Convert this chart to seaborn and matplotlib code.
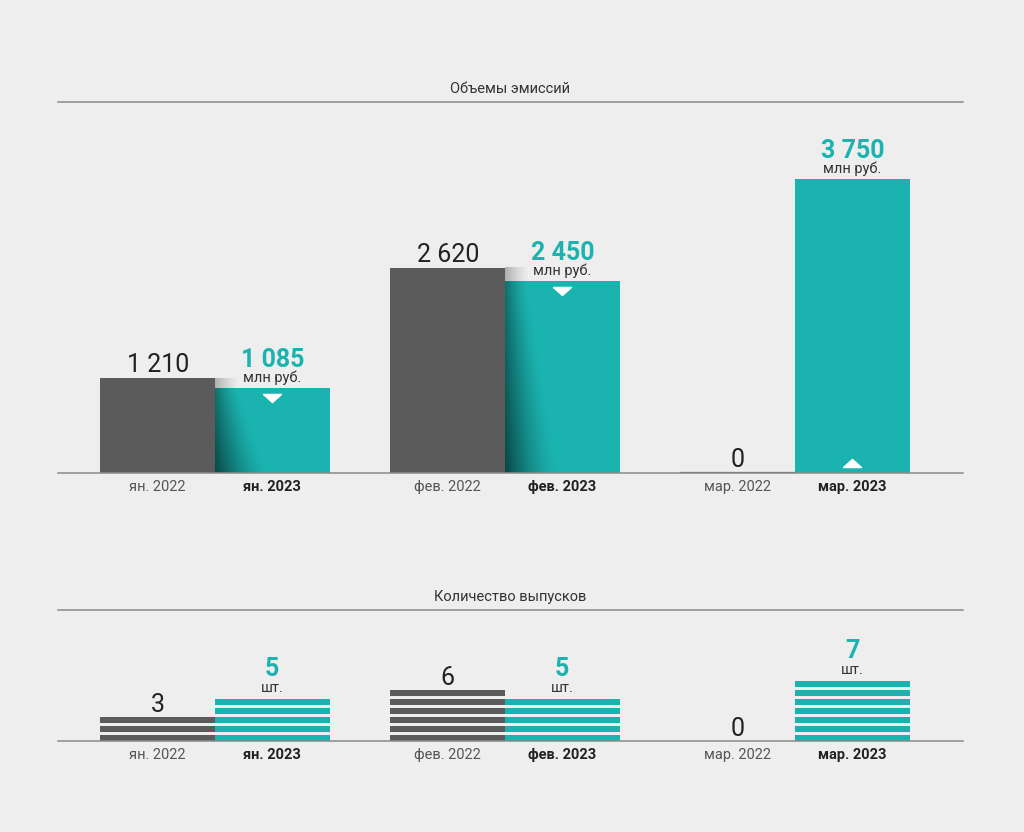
import numpy as np
import pandas as pd
import matplotlib
matplotlib.use("Agg")
import matplotlib.pyplot as plt
import seaborn as sns
from matplotlib import transforms
from matplotlib.colors import to_rgb

# ---------------- data ----------------
months = ["ян.", "фев.", "мар."]
years = ["2022", "2023"]
volume_2022 = [1210, 2620, 0]
volume_2023 = [1085, 2450, 3750]
count_2022 = [3, 6, 0]
count_2023 = [5, 5, 7]
title_volume = "Объемы эмиссий"
title_count = "Количество выпусков"
unit_volume = "млн руб."
unit_count = "шт."

# ---------------- style ----------------
BG = "#eeeeee"
GRAY = "#5b5b5b"
TEAL = "#1bb3af"
SPINE = "#8a8a8a"
DARK = "#222222"

sns.set_theme(style="white")
plt.rcParams["font.family"] = ["Roboto", "DejaVu Sans"]

W, H = 1024, 832
fig = plt.figure(figsize=(W / 100, H / 100), dpi=100, facecolor=BG)


def axes_px(x0, y0, x1, y1):
    ax = fig.add_axes([x0 / W, 1 - y1 / H, (x1 - x0) / W, (y1 - y0) / H])
    ax.set_facecolor(BG)
    return ax


ax1 = axes_px(58, 102, 963, 473)
ax2 = axes_px(58, 610, 963, 741)

XLIM = (-0.5414, 2.5793)


def fmt(v):
    return f"{v:,}".replace(",", " ")


def off(ax, dx=0, dy=0):
    return transforms.offset_copy(ax.transData, fig=fig, x=dx, y=dy, units="dots")


def style_axes(ax, title):
    for s in ["left", "right"]:
        ax.spines[s].set_visible(False)
    for s in ["top", "bottom"]:
        ax.spines[s].set_visible(True)
        ax.spines[s].set_color(SPINE)
        ax.spines[s].set_linewidth(1.1)
    ax.set_yticks([])
    ax.set_xlabel("")
    ax.set_ylabel("")
    ax.text(0.5, 1.0, title, transform=transforms.offset_copy(ax.transAxes, fig=fig, y=13, units="dots"),
            ha="center", va="center", fontsize=10.5, color="#333333")


def set_cat_ticks(ax, c_old, c_new):
    pos, labs = [], []
    for i, m in enumerate(months):
        for cont, yr in ((c_old, years[0]), (c_new, years[1])):
            p = cont.patches[i]
            pos.append(p.get_x() + p.get_width() / 2)
            labs.append(f"{m} {yr}")
    ax.set_xticks(pos)
    ax.set_xticklabels(labs)
    ax.tick_params(axis="x", length=0, pad=5, labelsize=10.5)
    for t, lab in zip(ax.get_xticklabels(), labs):
        if lab.endswith(years[1]):
            t.set_fontweight("bold")
            t.set_color(DARK)
        else:
            t.set_color("#555555")


# ---------------- top panel: volumes ----------------
df_vol = pd.DataFrame({
    "month": months * 2,
    "year": [years[0]] * 3 + [years[1]] * 3,
    "value": volume_2022 + volume_2023,
})
sns.barplot(data=df_vol, x="month", y="value", hue="year", palette=[GRAY, TEAL],
            width=0.79, saturation=1, errorbar=None, legend=False, linewidth=0, ax=ax1)
ax1.set_xlim(*XLIM)
ax1.set_ylim(0, 4732)
c_old, c_new = ax1.containers[0], ax1.containers[1]
style_axes(ax1, title_volume)
set_cat_ticks(ax1, c_old, c_new)

sx = (ax1.transData.transform((1, 0)) - ax1.transData.transform((0, 0)))[0]

dark_rgb = np.array(to_rgb("#063b3a"))
shade_rgb = np.array(to_rgb("#9a9a9a"))

for i in range(len(months)):
    po, pn = c_old.patches[i], c_new.patches[i]
    xo = po.get_x() + po.get_width() / 2
    xn = pn.get_x() + pn.get_width() / 2
    ho, hn = po.get_height(), pn.get_height()
    if ho == 0:
        po.set_linewidth(1.6)
        po.set_edgecolor(GRAY)
    # value labels
    ax1.text(xo, ho, fmt(volume_2022[i]), transform=off(ax1, dy=13), ha="center", va="center",
             fontsize=18, fontweight="normal", color=DARK)
    ax1.text(xn, hn, fmt(volume_2023[i]), transform=off(ax1, dy=28), ha="center", va="center",
             fontsize=18, fontweight="bold", color=TEAL)
    ax1.text(xn, hn, unit_volume, transform=off(ax1, dy=10), ha="center", va="center",
             fontsize=10.5, color="#333333")
    # direction triangle
    if volume_2023[i] < volume_2022[i]:
        verts = [(-1, 0.45), (1, 0.45), (0, -0.45), (-1, 0.45)]
        ax1.plot([xn], [hn], transform=off(ax1, dy=-10), marker=verts, ms=13,
                 color="white", mec="white", linestyle="none", zorder=5)
    else:
        verts = [(-1, -0.45), (1, -0.45), (0, 0.45), (-1, -0.45)]
        ax1.plot([xn], [0], transform=off(ax1, dy=10.5), marker=verts, ms=13,
                 color="white", mec="white", linestyle="none", zorder=5)
    # shadows cast by the gray bar
    if ho > 0 and hn > 0:
        ny, nx = 240, 120
        span_px = 60.0
        yy = np.linspace(0, 1, ny)[:, None]
        xx = np.linspace(0, span_px, nx)[None, :]
        wpx = 54 - 32 * yy
        amax = 0.9 - 0.35 * yy
        a = np.clip(1 - xx / wpx, 0, 1) ** 1.5 * amax
        img = np.zeros((ny, nx, 4))
        img[..., :3] = dark_rgb
        img[..., 3] = a
        x0 = pn.get_x()
        im = ax1.imshow(img, origin="lower", extent=[x0, x0 + span_px / sx, 0, hn],
                        aspect="auto", zorder=2, interpolation="bilinear")
        im.set_clip_path(pn)
        if ho > hn:
            span2 = 24.0
            xx2 = np.linspace(0, 1, 60)[None, :]
            g = np.zeros((4, 60, 4))
            g[..., :3] = shade_rgb
            g[..., 3] = np.repeat((1 - xx2) ** 1.3 * 0.75, 4, axis=0)
            ax1.imshow(g, origin="lower", extent=[x0, x0 + span2 / sx, hn, ho],
                       aspect="auto", zorder=2, interpolation="bilinear")

ax1.set_xlim(*XLIM)
ax1.set_ylim(0, 4732)

# ---------------- bottom panel: counts ----------------
df_cnt = pd.DataFrame({
    "month": months * 2,
    "year": [years[0]] * 3 + [years[1]] * 3,
    "value": count_2022 + count_2023,
})
STRIPE = 0.7
for k in range(max(count_2022 + count_2023)):
    lvl = df_cnt.assign(value=np.where(df_cnt["value"] > k, STRIPE, 0.0))
    sns.barplot(data=lvl, x="month", y="value", hue="year", palette=[GRAY, TEAL],
                width=0.79, saturation=1, errorbar=None, legend=False, linewidth=0,
                bottom=k, ax=ax2)
ax2.set_xlim(*XLIM)
ax2.set_ylim(0, 131 / 9)
b_old, b_new = ax2.containers[0], ax2.containers[1]
style_axes(ax2, title_count)
set_cat_ticks(ax2, b_old, b_new)

for i in range(len(months)):
    po, pn = b_old.patches[i], b_new.patches[i]
    xo = po.get_x() + po.get_width() / 2
    xn = pn.get_x() + pn.get_width() / 2
    to = count_2022[i] - (1 - STRIPE) if count_2022[i] > 0 else 0
    tn = count_2023[i] - (1 - STRIPE) if count_2023[i] > 0 else 0
    ax2.text(xo, to, str(count_2022[i]), transform=off(ax2, dy=12), ha="center", va="center",
             fontsize=18, fontweight="normal", color=DARK)
    ax2.text(xn, tn, str(count_2023[i]), transform=off(ax2, dy=30), ha="center", va="center",
             fontsize=18, fontweight="bold", color=TEAL)
    ax2.text(xn, tn, unit_count, transform=off(ax2, dy=11), ha="center", va="center",
             fontsize=10.5, color="#333333")

fig.savefig("out.png", dpi=100, facecolor=BG)
